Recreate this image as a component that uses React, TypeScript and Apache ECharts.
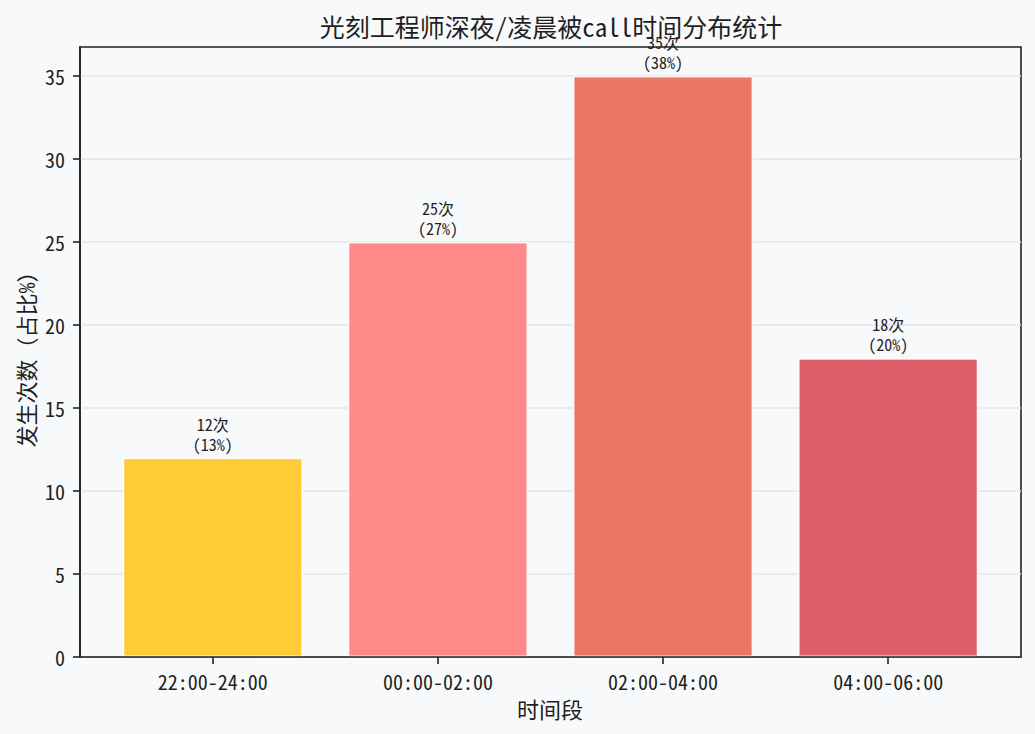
import React, { useEffect, useRef } from "react";
import * as echarts from "echarts";

const categories = ["22:00-24:00", "00:00-02:00", "02:00-04:00", "04:00-06:00"];
const counts = [12, 25, 35, 18];
const percents = [13, 27, 38, 20];
const barColors = ["#FFCC38", "#FF8888", "#ED7563", "#E05E6B"];
const yTickValues = [0, 5, 10, 15, 20, 25, 30, 35];

const TITLE = "光刻工程师深夜/凌晨被call时间分布统计";
const X_NAME = "时间段";
const Y_NAME = "发生次数（占比%）";

const FONT = "'Noto Sans Mono CJK SC', 'Noto Sans CJK SC', 'DejaVu Sans', sans-serif";
const INK = "#1f1f1f";
const BG = "#f8f9fa";

export default function App() {
  const ref = useRef<HTMLDivElement>(null);
  useEffect(() => {
    if (!ref.current) return;
    const chart = echarts.init(ref.current, undefined, { renderer: "svg" });
    const axisLineStyle = { color: "#222", width: 1.6 };
    const option: any = {
      animation: false,
      backgroundColor: BG,
      textStyle: { fontFamily: FONT },
      grid: [
        { left: 80, top: 47, width: 941, height: 610, show: true, backgroundColor: BG, borderColor: "#222", borderWidth: 1.6 },
        { left: 100.3, top: 47, width: 900.4, height: 610 },
      ],
      xAxis: [
        {
          gridIndex: 0, type: "value", min: 0, max: 1, z: 10,
          axisLine: { show: true, onZero: false, lineStyle: axisLineStyle },
          axisTick: { show: false }, axisLabel: { show: false }, splitLine: { show: false },
        },
        {
          gridIndex: 1, type: "category", data: categories, boundaryGap: true,
          axisLine: { show: false },
          axisTick: { show: true, alignWithLabel: true, length: 7, lineStyle: axisLineStyle },
          axisLabel: { margin: 14, fontSize: 20, color: INK, fontFamily: FONT },
          splitLine: { show: false },
        },
      ],
      yAxis: [
        {
          gridIndex: 0, type: "value", min: 0, max: 36.75, interval: 5,
          axisLine: { show: true, lineStyle: axisLineStyle },
          axisTick: { show: true, length: 7, lineStyle: axisLineStyle, customValues: yTickValues },
          axisLabel: { margin: 15, fontSize: 20, color: INK, fontFamily: FONT, customValues: yTickValues },
          splitLine: { show: true, lineStyle: { color: "#e3e4e6", width: 1.5 } },
        },
        { gridIndex: 1, type: "value", min: 0, max: 36.75, show: false },
      ],
      series: [
        {
          type: "bar",
          xAxisIndex: 1,
          yAxisIndex: 1,
          barWidth: "80%",
          data: counts.map((v, i) => ({ value: v, itemStyle: { color: barColors[i] } })),
          itemStyle: { borderColor: "rgba(255,255,255,0.85)", borderWidth: 1.5 },
          label: {
            show: true,
            position: "top",
            distance: 4,
            fontSize: 16,
            lineHeight: 20,
            color: INK,
            fontFamily: FONT,
            formatter: (p: any) => `${counts[p.dataIndex]}次\n(${percents[p.dataIndex]}%)`,
          },
          z: 3,
        },
      ],
      graphic: [
        {
          type: "text", x: 551, y: 26, z: 100,
          style: { text: TITLE, fontSize: 25, fontFamily: FONT, fill: INK, align: "center", verticalAlign: "middle" },
        },
        {
          type: "text", x: 550, y: 708, z: 100,
          style: { text: X_NAME, fontSize: 22, fontFamily: FONT, fill: INK, align: "center", verticalAlign: "middle" },
        },
        {
          type: "text", x: 25, y: 354, rotation: Math.PI / 2, z: 100,
          style: { text: Y_NAME, fontSize: 22, fontFamily: FONT, fill: INK, align: "center", verticalAlign: "middle" },
        },
      ],
    };
    chart.setOption(option);
    return () => chart.dispose();
  }, []);
  return <div ref={ref} style={{ position: "absolute", left: 0, top: 0, width: 1035, height: 734 }} />;
}
